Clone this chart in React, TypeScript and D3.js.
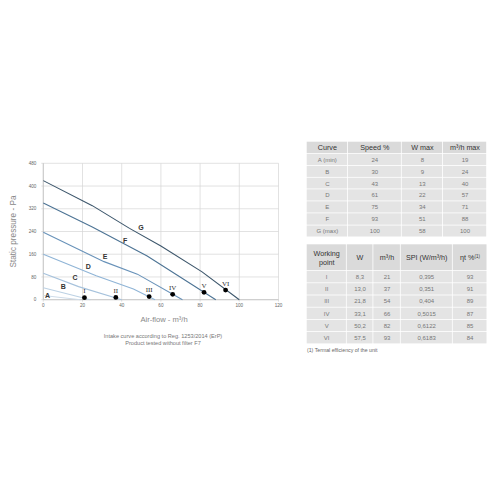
import React from "react";
import * as d3 from "d3";

// ---- data ----
const curveNames = ["A", "B", "C", "D", "E", "F", "G"];
const curveA: [number, number][] = [[0, 15], [19, 0]];
const curveB: [number, number][] = [[0, 42], [24, 0]];
const curveC: [number, number][] = [[0, 93], [18, 46], [40, 0]];
const curveD: [number, number][] = [[0, 160], [27, 84], [46, 38], [57, 0]];
const curveE: [number, number][] = [[0, 237], [31, 134], [48, 90], [71, 0]];
const curveF: [number, number][] = [[0, 340], [25, 256], [53, 154], [88, 0]];
const curveG: [number, number][] = [[0, 419], [25, 331], [44, 251], [60, 189], [81, 98], [100, 0]];
const curveLabelAt: [number, number][] = [[2.2, 14], [10.2, 48], [16.2, 77], [23, 116], [31.5, 151], [41.7, 207], [49.8, 254]];

const pointNames = ["I", "II", "III", "IV", "V", "VI"];
const pointFlow = [21, 37, 54, 66, 82, 93];
const pointPressure = [7, 8, 11, 19, 26, 34];

const xTicks = [0, 20, 40, 60, 80, 100, 120];
const yTicks = [0, 80, 160, 240, 320, 400, 480];

const t1Header = ["Curve", "Speed %", "W max", "m³/h max"];
const t1Curve = ["A (min)", "B", "C", "D", "E", "F", "G (max)"];
const t1Speed = ["24", "30", "43", "61", "75", "93", "100"];
const t1Wmax = ["8", "9", "13", "22", "34", "51", "58"];
const t1Flow = ["19", "24", "40", "57", "71", "88", "100"];

const t2Point = ["I", "II", "III", "IV", "V", "VI"];
const t2W = ["8,3", "13,0", "21,8", "33,1", "50,2", "57,5"];
const t2Flow = ["21", "37", "54", "66", "82", "93"];
const t2Spi = ["0,395", "0,351", "0,404", "0,5015", "0,6122", "0,6183"];
const t2Eta = ["93", "91", "89", "87", "85", "84"];

// ---- styles ----
const curveColors = ["#cfdce9", "#bcd1e4", "#a6c2dc", "#8fb4d6", "#6892b9", "#4c7394", "#3c566b"];
const FONT = "'Liberation Sans', Arial, sans-serif";

export default function App() {
  const x = d3.scaleLinear().domain([0, 120]).range([43.3, 278.5]);
  const y = d3.scaleLinear().domain([0, 480]).range([299.7, 163.3]);
  const line = d3.line<[number, number]>().x((d) => x(d[0])).y((d) => y(d[1]));
  const curves = [curveA, curveB, curveC, curveD, curveE, curveF, curveG];

  const t1Cols = [306.7, 348, 401.7, 443, 487];
  const t1Rows = [141.7, 154, 166, 177.7, 189.3, 201.3, 213.3, 225.5, 237.3];
  const t1Data = [t1Curve, t1Speed, t1Wmax, t1Flow];

  const t2Cols = [306.7, 346.7, 373.3, 400.7, 452.7, 487.3];
  const t2Top = 244.3;
  const t2HeadBottom = 271;
  const t2RowH = 12.2;
  const t2Data = [t2Point, t2W, t2Flow, t2Spi, t2Eta];

  const cellBg = "#e4e4e4";
  const headBg = "#dadada";

  return (
    <svg width={500} height={500} style={{ position: "absolute", left: 0, top: 0, background: "#fff" }} fontFamily={FONT}>
      {/* grid */}
      {xTicks.map((t) => (
        <line key={"gx" + t} x1={x(t)} x2={x(t)} y1={y(480)} y2={y(0) + 2} stroke="#d6d6d6" strokeWidth={0.7} />
      ))}
      {yTicks.map((t) => (
        <line key={"gy" + t} x1={x(0) - 2} x2={x(120)} y1={y(t)} y2={y(t)} stroke="#d6d6d6" strokeWidth={0.7} />
      ))}
      <line x1={x(0)} x2={x(0)} y1={y(480)} y2={y(0)} stroke="#bbb" strokeWidth={0.7} />
      <line x1={x(0)} x2={x(120)} y1={y(0)} y2={y(0)} stroke="#bbb" strokeWidth={0.7} />
      {xTicks.map((t) => (
        <text key={"tx" + t} x={x(t)} y={y(0) + 7.5} fontSize={4.6} fill="#666" textAnchor="middle">{t}</text>
      ))}
      {yTicks.map((t) => (
        <text key={"ty" + t} x={x(0) - 7} y={y(t) + 1.6} fontSize={4.6} fill="#666" textAnchor="end">{t}</text>
      ))}
      <text transform={`translate(16,${(y(0) + y(480)) / 2}) rotate(-90)`} fontSize={8.2} fill="#888" textAnchor="middle">Static pressure - Pa</text>
      <text x={164} y={322} fontSize={7.6} fill="#888" textAnchor="middle">Air-flow - m³/h</text>
      <text x={163} y={337.5} fontSize={5.6} fill="#777" textAnchor="middle">Intake curve according to Reg. 1253/2014 (ErP)</text>
      <text x={163} y={345} fontSize={5.6} fill="#777" textAnchor="middle">Product tested without filter F7</text>

      {/* curves */}
      {curves.map((c, i) => (
        <path key={"c" + i} d={line(c) || ""} fill="none" stroke={curveColors[i]} strokeWidth={1.1} />
      ))}
      {curveNames.map((n, i) => (
        <text key={"cl" + n} x={x(curveLabelAt[i][0])} y={y(curveLabelAt[i][1]) + 2.5} fontSize={7} fontWeight="bold" fill="#333" textAnchor="middle">{n}</text>
      ))}

      {/* working points */}
      {pointNames.map((n, i) => (
        <g key={"p" + n}>
          <circle cx={x(pointFlow[i])} cy={y(pointPressure[i])} r={2.4} fill="#000" />
          <text x={x(pointFlow[i])} y={y(pointPressure[i]) - 4.5} fontSize={7} fill="#333" textAnchor="middle" fontFamily="'Liberation Serif', 'DejaVu Serif', serif">{n}</text>
        </g>
      ))}

      {/* table 1 */}
      {t1Header.map((h, ci) => (
        <g key={"t1h" + ci}>
          <rect x={t1Cols[ci]} y={t1Rows[0]} width={t1Cols[ci + 1] - t1Cols[ci] - 0.8} height={t1Rows[1] - t1Rows[0] - 0.8} fill={headBg} />
          <text x={(t1Cols[ci] + t1Cols[ci + 1]) / 2} y={(t1Rows[0] + t1Rows[1]) / 2 + 2.5} fontSize={7.2} fill="#333" textAnchor="middle">{h}</text>
        </g>
      ))}
      {t1Data.map((col, ci) =>
        col.map((v, ri) => (
          <g key={"t1" + ci + "_" + ri}>
            <rect x={t1Cols[ci]} y={t1Rows[ri + 1]} width={t1Cols[ci + 1] - t1Cols[ci] - 0.8} height={t1Rows[ri + 2] - t1Rows[ri + 1] - 0.8} fill={cellBg} />
            <text x={(t1Cols[ci] + t1Cols[ci + 1]) / 2} y={(t1Rows[ri + 1] + t1Rows[ri + 2]) / 2 + 2} fontSize={6} fill="#777" textAnchor="middle">{v}</text>
          </g>
        ))
      )}

      {/* table 2 */}
      {t2Cols.slice(0, -1).map((cx, ci) => (
        <rect key={"t2hb" + ci} x={cx} y={t2Top} width={t2Cols[ci + 1] - cx - 0.8} height={t2HeadBottom - t2Top - 0.8} fill={headBg} />
      ))}
      <text x={(t2Cols[0] + t2Cols[1]) / 2} y={255.5} fontSize={7.2} fill="#333" textAnchor="middle">Working</text>
      <text x={(t2Cols[0] + t2Cols[1]) / 2} y={264.5} fontSize={7.2} fill="#333" textAnchor="middle">point</text>
      <text x={(t2Cols[1] + t2Cols[2]) / 2} y={260} fontSize={7.2} fill="#333" textAnchor="middle">W</text>
      <text x={(t2Cols[2] + t2Cols[3]) / 2} y={260} fontSize={7.2} fill="#333" textAnchor="middle">m³/h</text>
      <text x={(t2Cols[3] + t2Cols[4]) / 2} y={260} fontSize={7.2} fill="#333" textAnchor="middle">SPI (W/m³/h)</text>
      <text x={(t2Cols[4] + t2Cols[5]) / 2} y={260} fontSize={7.2} fill="#333" textAnchor="middle">
        ηt %<tspan fontSize={4.5} dy={-2.5}>(1)</tspan>
      </text>
      {t2Data.map((col, ci) =>
        col.map((v, ri) => (
          <g key={"t2" + ci + "_" + ri}>
            <rect x={t2Cols[ci]} y={t2HeadBottom + ri * t2RowH} width={t2Cols[ci + 1] - t2Cols[ci] - 0.8} height={t2RowH - 0.8} fill={cellBg} />
            <text x={(t2Cols[ci] + t2Cols[ci + 1]) / 2} y={t2HeadBottom + ri * t2RowH + t2RowH / 2 + 1.8} fontSize={6} fill="#777" textAnchor="middle">{v}</text>
          </g>
        ))
      )}
      <text x={307} y={352} fontSize={5.2} fill="#666">(1) Termal efficiency of the unit</text>
    </svg>
  );
}
